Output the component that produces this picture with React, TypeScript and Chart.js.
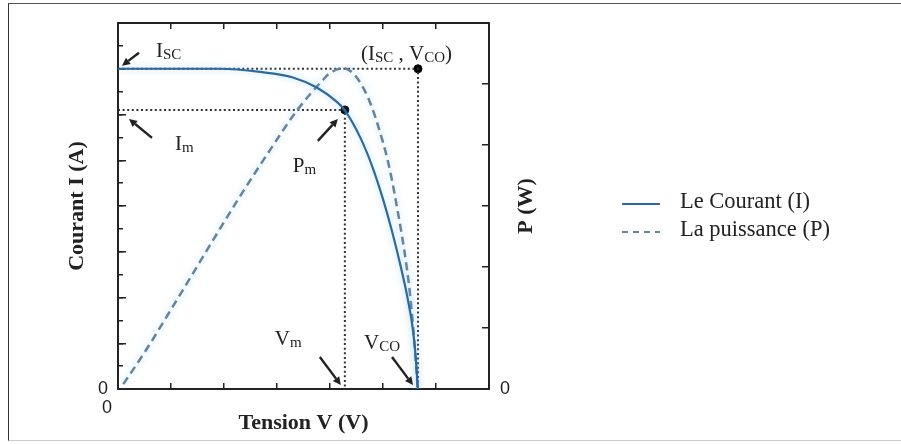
import React, { useEffect, useRef } from 'react';
import { Chart, registerables } from 'chart.js';

Chart.register(...registerables);

// ---- Data ----
// Current curve I(V)
const currentV = [0, 1.92, 2.68, 3.3, 3.75, 4.13, 4.28, 4.57, 4.81, 5.0, 5.17, 5.34, 5.47, 5.57, 5.63, 5.655];
const currentI = [14.0, 14.0, 13.86, 13.62, 13.18, 12.55, 12.18, 11.0, 9.65, 8.3, 6.9, 5.3, 3.9, 2.5, 1.0, 0];
// Power curve P(V)
const powerV = [0.1, 0.53, 1.11, 2.26, 2.87, 3.38, 3.87, 4.0, 4.25, 4.43, 4.62, 4.79, 4.94, 5.08, 5.17, 5.26, 5.36, 5.45, 5.51, 5.57, 5.62, 5.655];
const powerP = [0.08, 0.64, 1.46, 3.1, 3.92, 4.57, 5.07, 5.18, 5.26, 5.18, 4.95, 4.62, 4.22, 3.78, 3.42, 3.0, 2.5, 1.98, 1.55, 1.0, 0.45, 0];
// Characteristic points
const Isc = 14.0;
const Voc = 5.66;
const Im = 12.2;
const Vm = 4.28;
// Axis ranges / ticks
const xRange = [0, 7];
const yRange = [0, 16];
const y1Range = [0, 6];
const seriesLabels = ['Le Courant (I)', 'La puissance (P)'];
const xTitle = 'Tension V (V)';
const yTitle = 'Courant I (A)';
const y1Title = 'P (W)';

const SERIF = '"Liberation Serif", "Times New Roman", serif';
const SANS = '"Liberation Sans", Arial, sans-serif';
const INK = '#222';
const SOLID = '#2c6a9e';
const DASHED = '#64849e';

type Part = [string, boolean];

function drawParts(ctx: CanvasRenderingContext2D, x: number, y: number, parts: Part[], size: number, subSize: number) {
  let cx = x;
  for (const [t, sub] of parts) {
    ctx.font = `${sub ? subSize : size}px ${SERIF}`;
    ctx.fillText(t, cx, sub ? y + 2 : y);
    cx += ctx.measureText(t).width;
  }
}

function drawArrow(ctx: CanvasRenderingContext2D, x1: number, y1: number, x2: number, y2: number) {
  const a = Math.atan2(y2 - y1, x2 - x1);
  const hl = 8;
  const hw = 4;
  const bx = x2 - hl * Math.cos(a);
  const by = y2 - hl * Math.sin(a);
  ctx.beginPath();
  ctx.moveTo(x1, y1);
  ctx.lineTo(bx, by);
  ctx.lineWidth = 2.4;
  ctx.stroke();
  ctx.beginPath();
  ctx.moveTo(x2, y2);
  ctx.lineTo(bx - hw * Math.sin(a), by + hw * Math.cos(a));
  ctx.lineTo(bx + hw * Math.sin(a), by - hw * Math.cos(a));
  ctx.closePath();
  ctx.fill();
}

const noPad = (s: any) => {
  s.paddingTop = 0;
  s.paddingBottom = 0;
  s.paddingLeft = 0;
  s.paddingRight = 0;
};

const decorPlugin = {
  id: 'decor',
  beforeDatasetDraw(chart: any, args: any) {
    const ds = chart.data.datasets[args.index];
    chart.ctx.save();
    if (ds.glow) {
      chart.ctx.shadowColor = 'rgba(120,190,240,0.55)';
      chart.ctx.shadowBlur = 7;
    }
  },
  afterDatasetDraw(chart: any) {
    chart.ctx.restore();
  },
  afterDraw(chart: any) {
    const ctx: CanvasRenderingContext2D = chart.ctx;
    const { x, y } = chart.scales;
    const area = chart.chartArea;
    ctx.save();
    ctx.fillStyle = INK;
    ctx.strokeStyle = INK;
    ctx.textBaseline = 'alphabetic';
    ctx.textAlign = 'left';

    const big = 21;
    const sub = 15;

    // Isc
    const ax = x.getPixelForValue(0);
    const aIsc = y.getPixelForValue(Isc);
    drawArrow(ctx, ax + 21, aIsc - 16, ax + 4, aIsc - 3);
    drawParts(ctx, ax + 38, aIsc - 12, [['I', false], ['SC', true]], big, sub);

    // Im
    const aIm = y.getPixelForValue(Im);
    drawArrow(ctx, ax + 34, aIm + 28, ax + 11, aIm + 9);
    drawParts(ctx, ax + 57, aIm + 40, [['I', false], ['m', true]], big, sub);

    // Pm
    const pmx = x.getPixelForValue(Vm);
    drawArrow(ctx, pmx - 27, aIm + 31, pmx - 7, aIm + 9);
    drawParts(ctx, pmx - 52, aIm + 62, [['P', false], ['m', true]], big, sub);

    // (Isc , Vco)
    const vocx = x.getPixelForValue(Voc);
    drawParts(ctx, vocx - 57, aIsc - 9, [['(I', false], ['SC', true], [' , V', false], ['CO', true], [')', false]], big, sub);

    // Vm
    const y0 = y.getPixelForValue(0);
    drawParts(ctx, pmx - 70, y0 - 44, [['V', false], ['m', true]], big, sub);
    drawArrow(ctx, pmx - 25, y0 - 32, pmx - 4, y0 - 4);

    // Vco
    drawParts(ctx, vocx - 54, y0 - 40, [['V', false], ['CO', true]], big, sub);
    drawArrow(ctx, vocx - 26, y0 - 32, vocx - 5, y0 - 4);

    // Right axis title (reads bottom to top)
    ctx.save();
    ctx.font = `bold 22px ${SERIF}`;
    ctx.textAlign = 'center';
    ctx.textBaseline = 'middle';
    ctx.translate(area.right + 37, (area.top + area.bottom) / 2);
    ctx.rotate(-Math.PI / 2);
    ctx.fillText(y1Title, 0, 0);
    ctx.restore();

    // Legend
    const lx = area.right + 133;
    const ly = (area.top + area.bottom) / 2 - 4;
    const gap = 28;
    ctx.lineWidth = 2;
    ctx.strokeStyle = SOLID;
    ctx.setLineDash([]);
    ctx.beginPath();
    ctx.moveTo(lx, ly + 2);
    ctx.lineTo(lx + 38, ly + 2);
    ctx.stroke();
    ctx.strokeStyle = DASHED;
    ctx.setLineDash([6, 5]);
    ctx.beginPath();
    ctx.moveTo(lx, ly + gap + 2);
    ctx.lineTo(lx + 38, ly + gap + 2);
    ctx.stroke();
    ctx.setLineDash([]);
    ctx.fillStyle = INK;
    ctx.font = `22.5px ${SERIF}`;
    ctx.textBaseline = 'middle';
    ctx.fillText(seriesLabels[0], lx + 58, ly);
    ctx.fillText(seriesLabels[1], lx + 58, ly + gap);
    ctx.restore();
  },
};

export default function App() {
  const ref = useRef<HTMLCanvasElement | null>(null);

  useEffect(() => {
    if (!ref.current) return;
    const tickFont = { family: SANS, size: 18 };
    const zeroOnly = (v: any) => (Number(v) === 0 ? '0' : '');
    const chart = new Chart(ref.current, {
      type: 'line',
      data: {
        datasets: [
          {
            label: seriesLabels[0],
            data: currentV.map((v, i) => ({ x: v, y: currentI[i] })),
            xAxisID: 'x',
            yAxisID: 'y',
            borderColor: SOLID,
            borderWidth: 2.2,
            pointRadius: 0,
            cubicInterpolationMode: 'monotone',
            fill: false,
            glow: true,
          } as any,
          {
            label: seriesLabels[1],
            data: powerV.map((v, i) => ({ x: v, y: powerP[i] })),
            xAxisID: 'x',
            yAxisID: 'y1',
            borderColor: DASHED,
            borderWidth: 2.5,
            borderDash: [8, 5],
            pointRadius: 0,
            cubicInterpolationMode: 'monotone',
            fill: false,
            glow: true,
          } as any,
          {
            label: 'Isc-Voc',
            data: [
              { x: 0, y: Isc },
              { x: Voc, y: Isc },
              { x: Voc, y: 0 },
            ],
            xAxisID: 'x',
            yAxisID: 'y',
            borderColor: '#333',
            borderWidth: 2,
            borderDash: [2, 2.6],
            pointRadius: 0,
            tension: 0,
            fill: false,
          },
          {
            label: 'Im-Vm',
            data: [
              { x: 0, y: Im },
              { x: Vm, y: Im },
              { x: Vm, y: 0 },
            ],
            xAxisID: 'x',
            yAxisID: 'y',
            borderColor: '#333',
            borderWidth: 2,
            borderDash: [2, 2.6],
            pointRadius: 0,
            tension: 0,
            fill: false,
          },
          {
            label: 'points',
            data: [
              { x: Vm, y: Im },
              { x: Voc, y: Isc },
            ],
            xAxisID: 'x',
            yAxisID: 'y',
            showLine: false,
            pointRadius: 4,
            pointBackgroundColor: '#000',
            pointBorderColor: '#000',
            borderColor: '#000',
          },
        ],
      },
      options: {
        responsive: false,
        animation: false,
        events: [],
        layout: { padding: { left: 0, top: 23, right: 372, bottom: 0 } },
        plugins: { legend: { display: false }, tooltip: { enabled: false } },
        scales: {
          x: {
            type: 'linear',
            position: 'bottom',
            min: xRange[0],
            max: xRange[1],
            ticks: { stepSize: 1, callback: zeroOnly, font: tickFont, color: INK, padding: 14, labelOffset: -11, maxRotation: 0, autoSkip: false },
            grid: { drawOnChartArea: false, drawTicks: true, tickLength: -6, color: INK, lineWidth: 1.5 },
            border: { display: true, color: INK, width: 2 },
            title: { display: true, text: xTitle, font: { family: SERIF, size: 22, weight: 'bold' }, color: INK, padding: { top: 0, bottom: 7 } },
            afterFit: (s: any) => { s.height = 55; noPad(s); },
          },
          xTop: {
            type: 'linear',
            position: 'top',
            min: xRange[0],
            max: xRange[1],
            ticks: { stepSize: 1, display: false },
            grid: { drawOnChartArea: false, drawTicks: true, tickLength: -6, color: INK, lineWidth: 1.5 },
            border: { display: true, color: INK, width: 2 },
            afterFit: (s: any) => { s.height = 0; noPad(s); },
          },
          y: {
            type: 'linear',
            position: 'left',
            weight: 1,
            min: yRange[0],
            max: yRange[1],
            ticks: { stepSize: 2, callback: zeroOnly, font: tickFont, color: INK, padding: 18, autoSkip: false },
            grid: { drawOnChartArea: false, drawTicks: true, tickLength: -8, color: INK, lineWidth: 1.5 },
            border: { display: true, color: INK, width: 2 },
            title: { display: true, text: yTitle, font: { family: SERIF, size: 22, weight: 'bold' }, color: INK, padding: { top: 64, bottom: 0 } },
            afterFit: (s: any) => { s.width = 118; noPad(s); },
          },
          yMinor: {
            type: 'linear',
            position: 'left',
            weight: 0,
            min: yRange[0],
            max: yRange[1],
            ticks: { stepSize: 1, display: false, autoSkip: false },
            grid: { drawOnChartArea: false, drawTicks: true, tickLength: -5, color: INK, lineWidth: 1.5 },
            border: { display: false },
            afterFit: (s: any) => { s.width = 0; noPad(s); },
          },
          y1: {
            type: 'linear',
            position: 'right',
            min: y1Range[0],
            max: y1Range[1],
            ticks: { stepSize: 1, callback: zeroOnly, font: tickFont, color: INK, padding: 18, autoSkip: false },
            grid: { drawOnChartArea: false, drawTicks: true, tickLength: -7, color: INK, lineWidth: 1.5 },
            border: { display: true, color: INK, width: 2 },
            afterFit: (s: any) => { s.width = 40; noPad(s); },
          },
        },
      } as any,
      plugins: [decorPlugin],
    });
    return () => chart.destroy();
  }, []);

  return (
    <div style={{ position: 'fixed', left: 0, top: 0, width: 901, height: 444, background: '#fff' }}>
      <div
        style={{
          position: 'absolute',
          left: 8,
          top: 3,
          width: 893,
          height: 438,
          borderLeft: '1.5px solid #333',
          borderTop: '1.5px solid #555',
          borderBottom: '1px solid #ccc',
          boxSizing: 'border-box',
        }}
      />
      <canvas ref={ref} width={901} height={444} style={{ position: 'absolute', left: 0, top: 0 }} />
    </div>
  );
}
